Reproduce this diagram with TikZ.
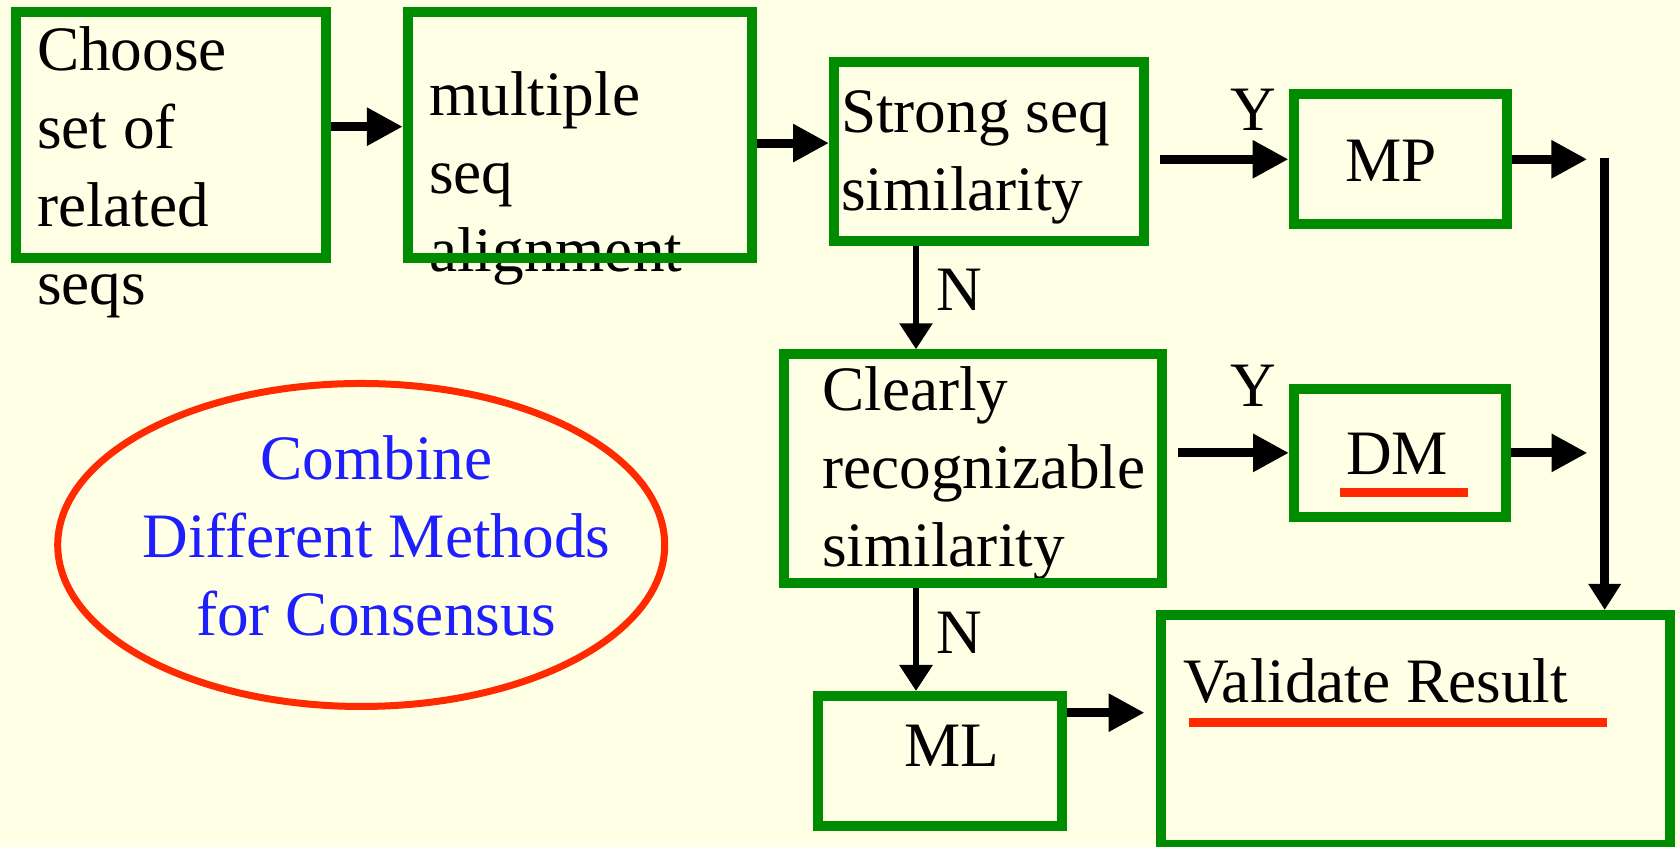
\documentclass[tikz,border=0pt]{standalone}
\usepackage{fontspec}
\setmainfont{Liberation Serif}
\usepackage{xcolor}
\definecolor{Paper}{HTML}{FFFFE6}
\definecolor{BoxGreen}{HTML}{008C00}
\definecolor{MarkRed}{HTML}{FF2A00}
\definecolor{NoteBlue}{HTML}{1E1EFF}
\usetikzlibrary{shapes.geometric, arrows.meta, calc}

\begin{document}
\begin{tikzpicture}[
  box/.style={rectangle, draw=BoxGreen, line width=0.1cm, inner sep=0pt},
  txt/.style={font=\fontsize{18}{22.2}\selectfont, inner sep=0pt, align=left},
  lbl/.style={font=\fontsize{18}{22.2}\selectfont, inner sep=0pt},
  arr/.style={-{Triangle[length=0.36cm, width=0.36cm]}, line width=0.09cm},
  arrv/.style={-{Triangle[length=0.26cm, width=0.32cm]}, line width=0.06cm},
  rail/.style={-{Triangle[length=0.26cm, width=0.31cm]}, line width=0.09cm},
  uline/.style={draw=MarkRed, line width=0.09cm},
  ell/.style={ellipse, draw=MarkRed, line width=0.07cm, inner sep=0pt}
]
\useasboundingbox (0,0) rectangle (16.8,8.47);
\fill[Paper] (0,0) rectangle (16.8,8.47);

%% ---- texts (boxes are drawn over them); base = last line ----
\node[txt, anchor=base west] (choosetxt) at (0.364, 5.423) {Choose\\set of\\related\\seqs};
\node[txt, anchor=base west] (msatxt) at (4.285, 5.753) {multiple\\seq\\alignment};
\node[txt, anchor=base west] (strongtxt) at (8.403, 6.363) {Strong seq\\similarity};
\node[txt, anchor=base west] (clearlytxt) at (8.216, 2.803) {Clearly\\recognizable\\similarity};
\node[lbl, anchor=base] (mptxt) at (13.91, 6.653) {MP};
\node[lbl, anchor=base] (dmtxt) at (13.97, 3.72) {DM};
\node[lbl, anchor=base] (mltxt) at (9.516, 0.803) {ML};
\node[lbl, anchor=base west] (validatetxt) at (11.825, 1.443) {Validate Result};
\node[txt, align=center, text=NoteBlue, anchor=base] (consensustxt) at (3.764, 2.11)
  {Combine\\Different Methods\\for Consensus};

%% ---- Row 1 ----
\node[box, minimum width=3.10cm, minimum height=2.457cm] (choose) at (1.706, 7.119) {};
\node[box, minimum width=3.44cm, minimum height=2.457cm] (msa) at (5.798, 7.119) {};
\node[box, minimum width=3.10cm, minimum height=1.787cm] (strong) at (9.89, 6.957) {};
\node[box, minimum width=2.13cm, minimum height=1.30cm] (mp) at (14.0, 6.877) {};

%% ---- Row 2 ----
\node[box, minimum width=3.773cm, minimum height=2.284cm] (clearly) at (9.73, 3.785) {};
\node[box, minimum width=2.12cm, minimum height=1.28cm] (dm) at (14.0, 3.941) {};
\node[ell, minimum width=6.07cm, minimum height=3.23cm] (consensus) at (3.612, 3.02) {};

%% ---- Row 3 ----
\node[box, minimum width=2.441cm, minimum height=1.30cm] (ml) at (9.40, 0.86) {};
\node[box, minimum width=5.095cm, minimum height=2.30cm] (validate) at (14.153, 1.17) {};

%% ---- underlines ----
\draw[uline] ($(dmtxt.base west)+(-0.05,-0.175)$) -- ++(1.28,0);
\draw[uline] ($(validatetxt.base west)+(0.06,-0.198)$) -- ++(4.184,0);

\coordinate (lane) at (9.16, 0);
\coordinate (mpend) at (15.873, 6.877);
\coordinate (dmend) at (15.875, 3.941);
\coordinate (railtop) at (16.047, 6.893);

%% ---- main path ----
\draw[arr] ([yshift=0.084cm]choose.east) -- ([yshift=0.084cm]msa.west);
\draw[arr] ([yshift=-0.08cm]msa.east) -- ([yshift=-0.08cm]msa.east -| strong.west);
\draw[arr, shorten <=0.11cm] (strong.east |- mp.west) -- node[lbl, pos=0.75, above=0.24cm] (yes1) {Y} (mp.west);
\draw[arrv] (strong.south -| lane) -- node[lbl, pos=0.43, right=0.17cm] (no1) {N} (clearly.north -| lane);
\draw[arr, shorten <=0.11cm] (clearly.east |- dm.west) -- node[lbl, pos=0.71, above=0.417cm] (yes2) {Y} (dm.west);
\draw[arrv] (clearly.south -| lane) -- node[lbl, pos=0.44, right=0.17cm] (no2) {N} (ml.north -| lane);
\draw[arr, shorten >=0.11cm] ([yshift=0.483cm]ml.east) -- ([yshift=0.483cm]ml.east -| validate.west);

%% ---- results go down to validation ----
\draw[arr] (mp.east) -- (mpend);
\draw[arr] (dm.east) -- (dmend);
\draw[rail] (railtop) -- (railtop |- validate.north);

\end{tikzpicture}
\end{document}
